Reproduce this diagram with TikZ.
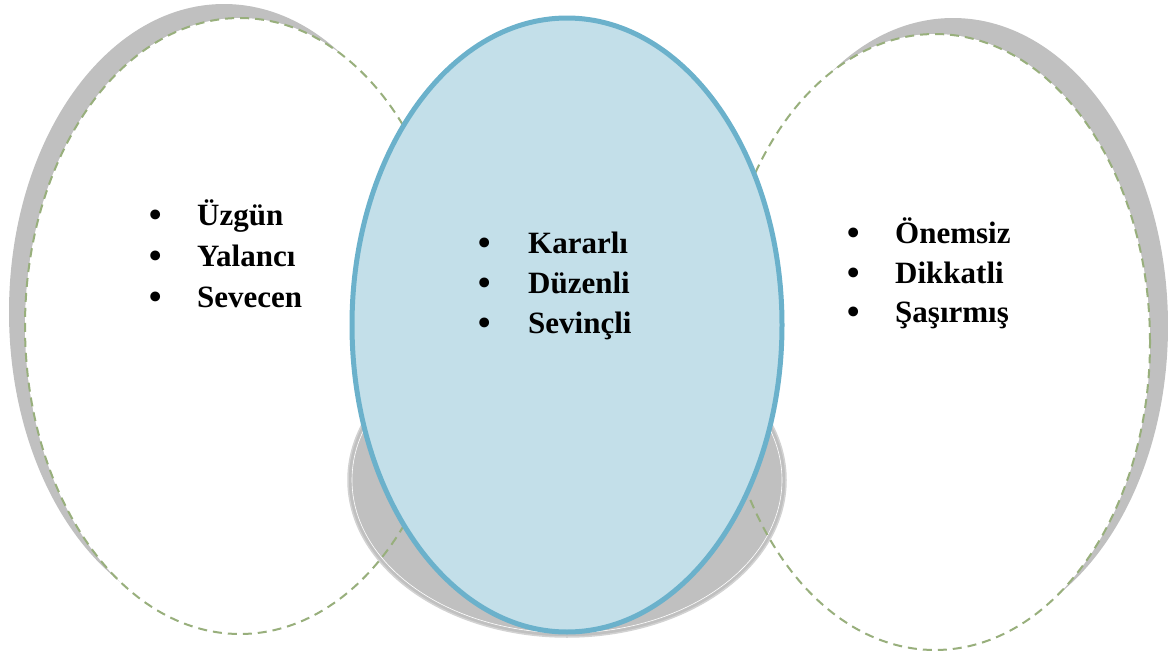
\documentclass[tikz,border=0pt]{standalone}
\usepackage{fontspec}
\setmainfont{Liberation Serif}
\usetikzlibrary{shapes.geometric}
\definecolor{shadowgray}{HTML}{C0C0C0}
\definecolor{dashgreen}{HTML}{98AF7C}
\definecolor{bluefill}{HTML}{C3DFE9}
\definecolor{bluestroke}{HTML}{6BB1CB}
\tikzset{
  oval/.style={ellipse, inner sep=0pt, outer sep=0pt, minimum width=430pt, minimum height=616pt},
  shadowoval/.style={oval, fill=shadowgray, draw=none},
  whiteoval/.style={oval, fill=white, draw=none},
  dashoval/.style={oval, draw=dashgreen, line width=2pt, dash pattern=on 9pt off 6pt},
  item/.style={anchor=base west, inner sep=0pt, font=\fontsize{31}{37}\selectfont\bfseries},
  dot/.style={anchor=base west, inner sep=0pt, yshift=-3.5pt, font=\fontsize{41}{41}\selectfont}
}
\begin{document}
\begin{tikzpicture}[x=1pt,y=-1pt]
\useasboundingbox (0,0) rectangle (1168,656);
% left ellipse
\node[shadowoval] (lsh) at (224,312) {};
\node[whiteoval] (lw) at (240,326) {};
% right ellipse
\node[shadowoval] (rsh) at (953,326) {};
\node[whiteoval] (rw) at (935,342) {};
% center shadow
\node[ellipse, inner sep=0pt, fill=shadowgray, draw=gray!35, line width=1.5pt, minimum width=438pt, minimum height=314pt] (csh) at (567,480) {};
\node[ellipse, inner sep=0pt, draw=white, line width=0.6pt, minimum width=430pt, minimum height=306pt] (cshin) at (567,480) {};
% dashed outlines
\node[dashoval] (ld) at (240,326) {};
\node[dashoval] (rd) at (935,342) {};
% center blue ellipse
\node[ellipse, inner sep=0pt, fill=bluefill, draw=bluestroke, line width=5pt, minimum width=430pt, minimum height=614pt] (c) at (567,325) {};
% left text
\node[dot] (lb1) at (148,225) {•};
\node[item] (lt1) at (197,225) {Üzgün};
\node[dot] (lb2) at (148,266) {•};
\node[item] (lt2) at (197,266) {Yalancı};
\node[dot] (lb3) at (148,307) {•};
\node[item] (lt3) at (197,307) {Sevecen};
% center text
\node[dot] (cb1) at (477,253) {•};
\node[item] (ct1) at (528,253) {Kararlı};
\node[dot] (cb2) at (477,293) {•};
\node[item] (ct2) at (528,293) {Düzenli};
\node[dot] (cb3) at (477,333) {•};
\node[item] (ct3) at (528,333) {Sevinçli};
% right text
\node[dot] (rb1) at (846,243) {•};
\node[item] (rt1) at (895,243) {Önemsiz};
\node[dot] (rb2) at (846,283) {•};
\node[item] (rt2) at (895,283) {Dikkatli};
\node[dot] (rb3) at (846,322) {•};
\node[item] (rt3) at (895,322) {Şaşırmış};
\end{tikzpicture}
\end{document}
